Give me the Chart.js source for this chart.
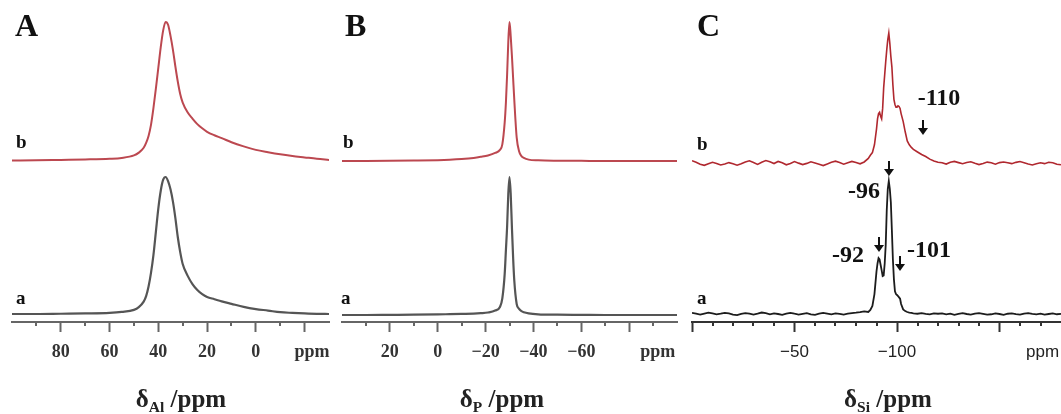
<!DOCTYPE html>
<html>
<head>
<meta charset="utf-8">
<script src="https://cdn.jsdelivr.net/npm/chart.js@4.4.1/dist/chart.umd.min.js"></script>
<style>
  html, body { margin: 0; padding: 0; background: #fff; }
  #wrap { position: relative; width: 1061px; height: 414px; overflow: hidden; background: #fff; }
  canvas { position: absolute; top: 0; }
  .lbl { position: absolute; font-family: 'Liberation Serif', 'Times New Roman', serif; font-weight: bold; color: #111; line-height: 1; white-space: nowrap; z-index: 5; }
  .panel { font-size: 32px; }
  .trace { font-size: 19px; }
  .title { font-size: 25px; text-align: center; width: 200px; color: #222; }
  .title sub { font-size: 0.62em; vertical-align: -0.3em; line-height: 0; }
</style>
</head>
<body>
<div id="wrap">
  <canvas id="cA" width="336" height="414" style="left:0px"></canvas>
  <canvas id="cB" width="344" height="414" style="left:336px"></canvas>
  <canvas id="cC" width="381" height="414" style="left:680px"></canvas>

  <div class="lbl panel" style="left:15px;top:9px">A</div>
  <div class="lbl panel" style="left:345px;top:9px">B</div>
  <div class="lbl panel" style="left:697px;top:9px">C</div>

  <div class="lbl trace" style="left:16px;top:132px">b</div>
  <div class="lbl trace" style="left:343px;top:132px">b</div>
  <div class="lbl trace" style="left:697px;top:134px">b</div>
  <div class="lbl trace" style="left:16px;top:288px">a</div>
  <div class="lbl trace" style="left:341px;top:288px">a</div>
  <div class="lbl trace" style="left:697px;top:288px">a</div>

  <div class="lbl title" style="left:81px;top:386px">δ<sub>Al</sub> /ppm</div>
  <div class="lbl title" style="left:402px;top:386px">δ<sub>P</sub> /ppm</div>
  <div class="lbl title" style="left:788px;top:386px">δ<sub>Si</sub> /ppm</div>
</div>
<script>
// ---------------- Panel A : 27Al ----------------
const alShift = [100, 90, 80, 70, 60, 55, 50, 48, 46, 45, 44, 43, 42, 41, 40, 39, 38, 37, 36, 35, 34, 33, 32, 31, 30, 28, 26, 24, 22, 20, 17, 14, 10, 5, 0, -5, -10, -15, -20, -25, -30];
const alTraceA = [0, 0, 0.2, 0.4, 0.8, 1.5, 3.0, 5.0, 9.0, 13, 20, 30, 43, 60, 77, 90, 98, 100, 97, 91, 82, 70, 56, 45, 36.5, 28, 21.8, 17.5, 14.5, 12.4, 10.8, 9.2, 7.4, 5.2, 3.6, 2.5, 1.3, 0.8, 0.4, 0.1, 0];
const alTraceB = [0.3, 0.5, 0.8, 1.1, 1.6, 2.2, 4.0, 6.0, 9.5, 13, 18, 26, 38, 52, 67, 82, 94, 100, 98, 90, 80, 68, 57, 48, 42, 35, 30.5, 26.5, 23.5, 21, 18.5, 16.5, 13.5, 10.5, 8, 6.3, 4.8, 3.6, 2.6, 1.6, 0.8];
const alTickValues = [80, 60, 40, 20, 0, -20];
const alTickLabels = ['80', '60', '40', '20', '0', ''];
const alMinor = [90, 70, 50, 30, 10, -10];
const alUnitAt = -23;

// ---------------- Panel B : 31P ----------------
const pShift = [40, 30, 20, 10, 0, -5, -10, -15, -18, -21, -24, -26, -27, -28, -28.5, -29, -29.5, -30, -30.5, -31, -31.5, -32, -33, -34, -35, -36, -38, -42, -50, -60, -70, -80, -90, -100];
const pTraceA = [0, 0, 0.1, 0.2, 0.4, 0.6, 0.8, 1.0, 1.3, 1.8, 3.2, 5.8, 12, 30, 47, 64, 88, 100, 88, 64, 42, 25, 8, 4.5, 2.8, 2, 1.2, 0.5, 0.2, 0.1, 0, 0, 0, 0];
const pTraceB = [0, 0, 0.1, 0.3, 0.6, 0.9, 1.4, 2.2, 3, 4, 5.8, 8, 12, 28, 42, 62, 86, 100, 90, 76, 60, 44, 17, 7, 3.5, 2.2, 1, 0.5, 0.2, 0.1, 0, 0, 0, 0];
const pTickValues = [20, 0, -20, -40, -60, -80];
const pTickLabels = ['20', '0', '\u221220', '\u221240', '\u221260', ''];
const pMinor = [30, 10, -10, -30, -50, -70, -90];
const pUnitAt = -92;

// ---------------- Panel C : 29Si ----------------
const siShift = [0, -2, -4, -6, -8, -10, -12, -14, -16, -18, -20, -22, -24, -26, -28, -30, -32, -34, -36, -38, -40, -42, -44, -46, -48, -50, -52, -54, -56, -58, -60, -62, -64, -66, -68, -70, -72, -74, -76, -78, -80, -82, -84,
  -86, -87, -88, -89, -90, -90.5, -91, -91.5, -92, -92.5, -93, -93.5, -94, -94.5, -95, -95.5, -96, -96.5, -97, -97.5, -98, -98.5, -99, -99.5, -100, -100.5, -101, -101.5, -102, -103, -104, -105, -106, -107, -108, -110, -112, -114, -116, -118, -120,
  -122, -124, -126, -128, -130, -132, -134, -136, -138, -140, -142, -144, -146, -148, -150, -152, -154, -156, -158, -160, -162, -164, -166, -168, -170, -172, -174, -176, -178, -180];
const siTraceA = [0.8, 0.2, -0.5, 0.3, 1.0, 0.4, -0.3, 0.2, 0.9, 0.5, -0.4, -0.8, 0.1, 0.7, 0.3, -0.5, 0.2, 1.1, 0.6, -0.2, 0.4, 0.0, -0.6, 0.3, 0.9, 0.2, -0.4, 0.1, 0.6, -0.3, -0.7, 0.2, 0.8, 0.3, -0.2, 0.5, 0.1, -0.5, 0.2, 0.7, 1.0, 1.4, 2.0,
  1.5, 3, 6, 15, 32, 38, 42, 41, 37, 33, 28.5, 29, 38, 52, 78, 94, 100, 94, 84, 63, 41, 26, 17, 15, 14.3, 13.5, 12.5, 11.5, 7.5, 3.5, 2.2, 1.5, 1.0, 0.8, 0.5, 0.2, 0.6, 0.1, -0.3, 0.4, 0.2,
  0.5, -0.2, 0.3, -0.6, 0.1, 0.6, 0.0, -0.4, 0.3, 0.7, 0.1, -0.5, -0.2, 0.4, 0.0, -0.6, 0.2, 0.5, -0.1, -0.4, 0.3, 0.6, 0.1, -0.3, 0.2, -0.5, 0.0, 0.4, -0.2, 0.1];
const siTraceB = [1.8, 0.6, -1.0, -1.8, -0.6, 0.6, -0.3, -1.5, -0.8, 0.3, -0.5, -1.7, -0.6, 0.8, 1.7, 0.4, -1.1, 0.6, 1.9, 0.9, -0.4, 1.2, 0.2, -1.4, -0.4, 1.1, -0.1, -1.2, -0.3, 0.9, 0.0, -1.0, -2.0, -0.7, 0.5, 1.4, 0.3, -0.9, 0.2, 1.2, 0.4, -0.6, 0.8,
  3.5, 6, 8, 14, 26, 34, 38, 39, 36, 34, 42, 58, 68, 78, 87, 95, 100, 92, 82, 74, 60, 49, 45, 43, 43, 44, 43.5, 42, 38, 32, 24, 17, 14, 12, 10.5, 8.5, 6.5, 5, 3, 1.5, 0.6,
  0.2, -0.8, 0.6, 1.2, 0.3, -0.6, 0.4, 0.9, -0.2, -1.2, -0.4, 0.7, 0.2, -0.9, 0.3, 0.8, 0.2, -0.5, 0.5, 1.1, 0.2, -0.8, -1.5, -0.6, 0.2, -0.5, 0.6, 0.2, -0.9, -1.4];
const siTickValues = [0, -50, -100, -150];
const siTickLabels = ['', '\u221250', '\u2212100', ''];
const siMinor = [-10, -20, -30, -40, -60, -70, -80, -90, -110, -120, -130, -140, -160, -170];
const siUnitAt = -171;

// annotated Si resonances (arrow position in ppm, arrow tip height in plot units)
const siMarkLabels = ['-110', '-96', '-92', '-101'];
const siMarkShift = [-112.7, -96.1, -91.2, -101.5];
const siMarkTip = [187, 146, 70, 51];
const siMarkTextOffset = [[16, -36], [-25, 16], [-31, 4], [29, -20]];

// ---------------- helpers ----------------
function trace(shift, vals, offset, scale) {
  return shift.map((p, i) => ({ x: p, y: offset + scale * vals[i] }));
}

const minorTickPlugin = {
  id: 'minorTicks',
  afterDraw(chart, args, opts) {
    const s = chart.scales.x, ctx = chart.ctx;
    ctx.save();
    ctx.strokeStyle = opts.color;
    ctx.lineWidth = 2;
    (opts.values || []).forEach(v => {
      const px = Math.round(s.getPixelForValue(v));
      ctx.beginPath();
      ctx.moveTo(px, s.top);
      ctx.lineTo(px, s.top + opts.len);
      ctx.stroke();
    });
    ctx.restore();
  }
};

const markPlugin = {
  id: 'siMarks',
  afterDatasetsDraw(chart, args, opts) {
    if (!opts.enabled) return;
    const xs = chart.scales.x, ys = chart.scales.y, ctx = chart.ctx;
    ctx.save();
    ctx.fillStyle = '#111';
    ctx.strokeStyle = '#111';
    ctx.lineWidth = 2;
    ctx.font = "bold 24px 'Liberation Serif', 'Times New Roman', serif";
    ctx.textAlign = 'center';
    ctx.textBaseline = 'middle';
    siMarkLabels.forEach((t, i) => {
      const x = Math.round(xs.getPixelForValue(siMarkShift[i]));
      const tip = ys.getPixelForValue(siMarkTip[i]);
      ctx.beginPath();
      ctx.moveTo(x, tip - 15);
      ctx.lineTo(x, tip - 5);
      ctx.stroke();
      ctx.beginPath();
      ctx.moveTo(x - 5, tip - 7);
      ctx.lineTo(x + 5, tip - 7);
      ctx.lineTo(x, tip);
      ctx.closePath();
      ctx.fill();
      ctx.fillText(t, x + siMarkTextOffset[i][0], tip + siMarkTextOffset[i][1]);
    });
    ctx.restore();
  }
};

function makeChart(id, o) {
  return new Chart(document.getElementById(id), {
    type: 'line',
    data: { datasets: o.datasets },
    options: {
      responsive: false,
      animation: false,
      devicePixelRatio: 1,
      events: [],
      layout: { padding: { left: o.padL, right: o.padR, top: 0, bottom: 0 } },
      plugins: {
        legend: { display: false },
        tooltip: { enabled: false },
        minorTicks: { values: o.minor, color: o.axisColor, len: 4 },
        siMarks: { enabled: !!o.marks }
      },
      elements: { point: { radius: 0 } },
      scales: {
        x: {
          type: 'linear',
          reverse: true,
          min: o.min,
          max: o.max,
          afterBuildTicks: s => { s.ticks = o.ticks.map(v => ({ value: v })); },
          afterFit: s => { s.height = 92; s.paddingLeft = 0; s.paddingRight = 0; },
          border: { display: true, color: o.axisColor, width: 2 },
          grid: {
            drawOnChartArea: false,
            drawTicks: true,
            tickLength: 10,
            tickWidth: 2,
            tickColor: c => (c.tick && c.tick.value === o.unitAt) ? 'rgba(0,0,0,0)' : o.axisColor
          },
          ticks: {
            autoSkip: false,
            maxRotation: 0,
            minRotation: 0,
            padding: 10,
            color: o.tickColor,
            font: o.font,
            callback: v => {
              if (v === o.unitAt) return 'ppm';
              const k = o.tickValues.indexOf(v);
              return k >= 0 ? o.tickLabels[k] : '';
            }
          }
        },
        y: { display: false, min: 0, max: 322 }
      }
    },
    plugins: [minorTickPlugin, markPlugin]
  });
}

const serifTick = { family: "'Liberation Serif', 'Times New Roman', serif", size: 18, weight: 'bold' };
const sansTick = { family: "'Liberation Sans', Arial, sans-serif", size: 17, weight: 'normal' };

makeChart('cA', {
  padL: 12, padR: 7, min: -30, max: 100,
  ticks: alTickValues.concat([alUnitAt]), tickValues: alTickValues, tickLabels: alTickLabels,
  minor: alMinor, unitAt: alUnitAt, axisColor: '#666', tickColor: '#333', font: serifTick,
  datasets: [
    { data: trace(alShift, alTraceA, 8, 1.37), borderColor: '#555', borderWidth: 2.2, cubicInterpolationMode: 'monotone', fill: false },
    { data: trace(alShift, alTraceB, 161, 1.39), borderColor: '#bc4850', borderWidth: 2, cubicInterpolationMode: 'monotone', fill: false }
  ]
});

makeChart('cB', {
  padL: 6, padR: 3, min: -100, max: 40,
  ticks: pTickValues.concat([pUnitAt]), tickValues: pTickValues, tickLabels: pTickLabels,
  minor: pMinor, unitAt: pUnitAt, axisColor: '#666', tickColor: '#333', font: serifTick,
  datasets: [
    { data: trace(pShift, pTraceA, 7, 1.38), borderColor: '#555', borderWidth: 2.2, cubicInterpolationMode: 'monotone', fill: false },
    { data: trace(pShift, pTraceB, 161, 1.39), borderColor: '#bc4850', borderWidth: 2, cubicInterpolationMode: 'monotone', fill: false }
  ]
});

makeChart('cC', {
  padL: 12, padR: 0, min: -180, max: 0,
  ticks: siTickValues.concat([siUnitAt]), tickValues: siTickValues, tickLabels: siTickLabels,
  minor: siMinor, unitAt: siUnitAt, axisColor: '#333', tickColor: '#222', font: sansTick,
  marks: true,
  datasets: [
    { data: trace(siShift, siTraceA, 8, 1.33), borderColor: '#1c1c1c', borderWidth: 1.8, tension: 0, fill: false },
    { data: trace(siShift, siTraceB, 159, 1.30), borderColor: '#b0282f', borderWidth: 1.6, tension: 0, fill: false }
  ]
});
</script>
</body>
</html>
